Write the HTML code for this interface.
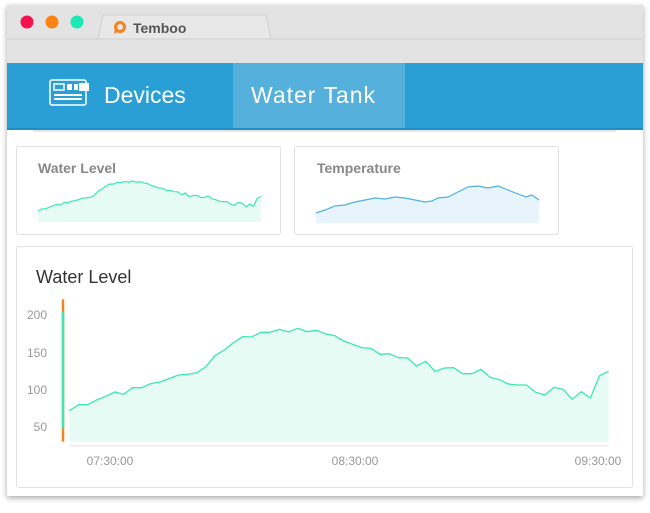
<!DOCTYPE html>
<html><head><meta charset="utf-8"><style>
body{margin:0;width:650px;height:508px;background:#fff;overflow:hidden;font-family:"Liberation Sans",sans-serif}
</style></head><body>
<svg width="650" height="508" xmlns="http://www.w3.org/2000/svg" font-family="Liberation Sans, sans-serif">
<defs><filter id="sh" x="-5%" y="-5%" width="110%" height="110%"><feDropShadow dx="0" dy="2" stdDeviation="3" flood-color="#000" flood-opacity="0.35"/></filter></defs>
<rect x="7" y="5" width="636" height="491" fill="#fff" filter="url(#sh)"/>
<rect x="7" y="5" width="636" height="58" fill="#e3e3e3"/>
<path d="M98 39 L103 15 L266 15 L271 39 Z" fill="#e8e8e8" stroke="#d0d0d0" stroke-width="1"/>
<line x1="7" y1="39" x2="98" y2="39" stroke="#d0d0d0"/><line x1="271" y1="39" x2="643" y2="39" stroke="#d0d0d0"/>
<circle cx="27" cy="22" r="6.5" fill="#f5124f"/><circle cx="52" cy="22" r="6.5" fill="#fd8414"/><circle cx="77" cy="22" r="6.5" fill="#1de9b6"/>
<circle cx="120" cy="27" r="4.5" fill="none" stroke="#f58220" stroke-width="3"/><path d="M115 28 L114 34 L119 31" fill="#f58220"/>
<text x="133" y="33" font-size="14" font-weight="bold" fill="#555">Temboo</text>
<rect x="7" y="63" width="636" height="67" fill="#2a9fd6"/>
<rect x="233" y="63" width="172" height="67" fill="#56b0dc"/>
<rect x="7" y="128" width="636" height="2" fill="#1e8fc6"/>
<rect x="33" y="130" width="583" height="2" fill="#e6e6e6"/>
<g fill="none" stroke="#fff" stroke-width="1.5"><rect x="50" y="80" width="36" height="25" rx="2"/><rect x="54" y="84" width="10" height="6"/></g>
<g fill="#fff"><rect x="67" y="84" width="5" height="6"/><rect x="74" y="84" width="4" height="6"/><rect x="79" y="83" width="10" height="8"/><rect x="54" y="94" width="28" height="2"/><rect x="54" y="98" width="28" height="2"/></g>
<text x="104" y="103" font-size="23" fill="#fff">Devices</text>
<text x="251" y="103" font-size="23" fill="#fff" textLength="124">Water Tank</text>
<rect x="16.5" y="146.5" width="264" height="88" rx="2" fill="#fff" stroke="#e2e2e2"/>
<rect x="294.5" y="146.5" width="264" height="88" rx="2" fill="#fff" stroke="#e2e2e2"/>
<text x="38" y="173" font-size="14" font-weight="bold" fill="#888">Water Level</text>
<text x="317" y="173" font-size="14" font-weight="bold" fill="#888">Temperature</text>
<g transform="translate(9.4,148.8) scale(0.1714,0.1215)">
<path d="M167,512 L190,494 L212,494 L233,480 L255,469 L277,456 L298,463 L320,443 L342,443 L363,431 L386,426 L408,416 L430,405 L452,403 L475,398 L497,380 L518,347 L540,331 L562,309 L585,290 L607,291 L629,277 L651,277 L674,268 L696,276 L718,265 L741,275 L764,271 L786,282 L807,287 L829,303 L851,313 L873,323 L895,325 L917,343 L939,341 L961,353 L983,354 L1005,378 L1027,364 L1049,394 L1072,384 L1094,383 L1116,401 L1138,401 L1160,388 L1182,412 L1204,419 L1226,432 L1248,435 L1270,435 L1292,457 L1314,465 L1336,442 L1358,448 L1380,478 L1402,455 L1424,474 L1446,407 L1468,394 L1468,602 L167,602 Z" fill="#e6fbf4"/>
<path d="M167,512 L190,494 L212,494 L233,480 L255,469 L277,456 L298,463 L320,443 L342,443 L363,431 L386,426 L408,416 L430,405 L452,403 L475,398 L497,380 L518,347 L540,331 L562,309 L585,290 L607,291 L629,277 L651,277 L674,268 L696,276 L718,265 L741,275 L764,271 L786,282 L807,287 L829,303 L851,313 L873,323 L895,325 L917,343 L939,341 L961,353 L983,354 L1005,378 L1027,364 L1049,394 L1072,384 L1094,383 L1116,401 L1138,401 L1160,388 L1182,412 L1204,419 L1226,432 L1248,435 L1270,435 L1292,457 L1314,465 L1336,442 L1358,448 L1380,478 L1402,455 L1424,474 L1446,407 L1468,394" fill="none" stroke="#3de8b0" stroke-width="1.2" vector-effect="non-scaling-stroke"/>
</g>
<path d="M316,213 L325,210 L335,206 L345,205 L355,202 L365,200 L375,198 L385,199 L395,197 L405,198 L415,200 L425,202 L432,201 L438,198 L448,197 L458,192 L468,187 L478,186 L488,188 L498,186 L508,190 L518,194 L526,197 L532,195 L539,200 L539,223 L316,223 Z" fill="#e8f4fb"/>
<path d="M316,213 L325,210 L335,206 L345,205 L355,202 L365,200 L375,198 L385,199 L395,197 L405,198 L415,200 L425,202 L432,201 L438,198 L448,197 L458,192 L468,187 L478,186 L488,188 L498,186 L508,190 L518,194 L526,197 L532,195 L539,200" fill="none" stroke="#52b0e0" stroke-width="1.2"/>
<rect x="16.5" y="246.5" width="616" height="241" rx="2" fill="#fff" stroke="#e2e2e2"/>
<text x="36" y="283" font-size="18" fill="#333">Water Level</text>
<g transform="translate(0,240) scale(0.4146,0.33333)">
<path d="M167,512 L190,494 L212,494 L233,480 L255,469 L277,456 L298,463 L320,443 L342,443 L363,431 L386,426 L408,416 L430,405 L452,403 L475,398 L497,380 L518,347 L540,331 L562,309 L585,290 L607,291 L629,277 L651,277 L674,268 L696,276 L718,265 L741,275 L764,271 L786,282 L807,287 L829,303 L851,313 L873,323 L895,325 L917,343 L939,341 L961,353 L983,354 L1005,378 L1027,364 L1049,394 L1072,384 L1094,383 L1116,401 L1138,401 L1160,388 L1182,412 L1204,419 L1226,432 L1248,435 L1270,435 L1292,457 L1314,465 L1336,442 L1358,448 L1380,478 L1402,455 L1424,474 L1446,407 L1468,394 L1468,605 L167,605 Z" fill="#e6fbf4"/>
<path d="M167,512 L190,494 L212,494 L233,480 L255,469 L277,456 L298,463 L320,443 L342,443 L363,431 L386,426 L408,416 L430,405 L452,403 L475,398 L497,380 L518,347 L540,331 L562,309 L585,290 L607,291 L629,277 L651,277 L674,268 L696,276 L718,265 L741,275 L764,271 L786,282 L807,287 L829,303 L851,313 L873,323 L895,325 L917,343 L939,341 L961,353 L983,354 L1005,378 L1027,364 L1049,394 L1072,384 L1094,383 L1116,401 L1138,401 L1160,388 L1182,412 L1204,419 L1226,432 L1248,435 L1270,435 L1292,457 L1314,465 L1336,442 L1358,448 L1380,478 L1402,455 L1424,474 L1446,407 L1468,394" fill="none" stroke="#3de8b0" stroke-width="1.3" vector-effect="non-scaling-stroke"/>
<rect x="167" y="615" width="1301" height="5" fill="#ececec"/>
<rect x="149" y="178" width="6" height="427" fill="#f58220"/>
<rect x="149" y="215" width="6" height="350" fill="#3de8b0"/>
</g>
<g font-size="12" fill="#999" text-anchor="end">
<text x="47" y="319">200</text><text x="47" y="357">150</text><text x="47" y="394">100</text><text x="47" y="431">50</text>
</g>
<g font-size="12" fill="#999" text-anchor="middle">
<text x="110" y="465">07:30:00</text><text x="355" y="465">08:30:00</text><text x="598" y="465">09:30:00</text>
</g>
</svg>
</body></html>
